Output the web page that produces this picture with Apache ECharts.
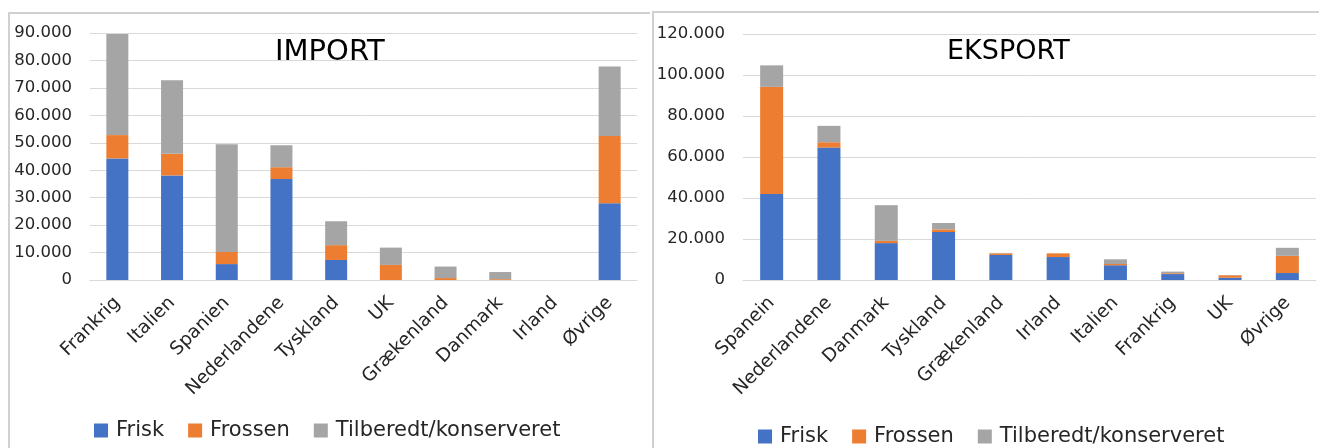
<!DOCTYPE html>
<html>
<head>
<meta charset="utf-8">
<script src="https://cdn.jsdelivr.net/npm/echarts@6/dist/echarts.min.js"></script>
<style>
  html, body { margin: 0; padding: 0; background: #ffffff; }
  #chart { width: 1319px; height: 448px; }
</style>
</head>
<body>
<div id="chart"></div>
<script>
// Import per land (tons)
const importCategories = ['Frankrig', 'Italien', 'Spanien', 'Nederlandene', 'Tyskland', 'UK', 'Grækenland', 'Danmark', 'Irland', 'Øvrige'];
const importFrisk     = [44300, 38100, 5800, 36800, 7300, 0, 0, 0, 0, 28000];
const importFrossen   = [8500, 7900, 4400, 4300, 5400, 5500, 700, 300, 0, 24500];
const importTilberedt = [36800, 26800, 39300, 8000, 8700, 6300, 4200, 2600, 0, 25300];

// Eksport per land (tons)
const exportCategories = ['Spanein', 'Nederlandene', 'Danmark', 'Tyskland', 'Grækenland', 'Irland', 'Italien', 'Frankrig', 'UK', 'Øvrige'];
const exportFrisk     = [42000, 64600, 18000, 23400, 12200, 11200, 7200, 2900, 1100, 3400];
const exportFrossen   = [52200, 2600, 1100, 1300, 800, 1800, 600, 400, 1200, 8400];
const exportTilberedt = [10500, 8000, 17400, 3100, 200, 0, 2300, 800, 100, 3900];

const seriesNames = ['Frisk', 'Frossen', 'Tilberedt/konserveret'];
const titles = ['IMPORT', 'EKSPORT'];

const colors = ['#4472C4', '#ED7D31', '#A5A5A5'];
const FONT = 'DejaVu Sans';
const TEXT = '#262626';
const GRID_LINE = '#d9d9d9';
const BORDER = '#d0d0d0';

function thousands(v) {
  return String(v).replace(/\B(?=(\d{3})+(?!\d))/g, '.');
}

function yAxis(gridIndex, max, interval) {
  return {
    type: 'value', gridIndex, min: 0, max, interval,
    axisLine: { show: false }, axisTick: { show: false },
    splitLine: { lineStyle: { color: GRID_LINE, width: 1 } },
    axisLabel: { fontFamily: FONT, fontSize: 16.5, color: TEXT, margin: 18, formatter: thousands }
  };
}

function xAxis(gridIndex, data) {
  return {
    type: 'category', gridIndex, data,
    axisLine: { lineStyle: { color: GRID_LINE, width: 1 } },
    axisTick: { show: false },
    axisLabel: { interval: 0, rotate: 45, fontFamily: FONT, fontSize: 18.5, color: TEXT, margin: 20 }
  };
}

function bars(idx, stack, width, values) {
  return values.map((vals, i) => ({
    name: seriesNames[i], type: 'bar', stack,
    xAxisIndex: idx, yAxisIndex: idx,
    barWidth: width, data: vals,
    itemStyle: { color: colors[i] },
    emphasis: { disabled: true }
  }));
}

function legend(left, top) {
  return {
    left, top, itemWidth: 14, itemHeight: 14, itemGap: 24,
    icon: 'rect', data: seriesNames,
    textStyle: { fontFamily: FONT, fontSize: 21, color: TEXT, padding: [0, 0, 0, 3] }
  };
}

const chart = echarts.init(document.getElementById('chart'));
chart.setOption({
  animation: false,
  color: colors,
  title: [
    { text: titles[0], left: 275, top: 38, padding: 0, textStyle: { fontFamily: FONT, fontSize: 29, fontWeight: 'normal', color: '#000' } },
    { text: titles[1], left: 947, top: 38, padding: 0, textStyle: { fontFamily: FONT, fontSize: 27, fontWeight: 'normal', color: '#000' } }
  ],
  legend: [legend(89, 415), legend(753, 421)],
  grid: [
    { left: 90, right: 682, top: 33, bottom: 168 },
    { left: 743, right: 3, top: 34, bottom: 168 }
  ],
  xAxis: [xAxis(0, importCategories), xAxis(1, exportCategories)],
  yAxis: [yAxis(0, 90000, 10000), yAxis(1, 120000, 20000)],
  series: [
    ...bars(0, 'import', 22, [importFrisk, importFrossen, importTilberedt]),
    ...bars(1, 'eksport', 23, [exportFrisk, exportFrossen, exportTilberedt])
  ],
  graphic: [
    // panel frames
    { type: 'polyline', shape: { points: [[9, 448], [9, 13], [650, 13]] }, style: { stroke: BORDER, lineWidth: 2, fill: null }, silent: true },
    { type: 'polyline', shape: { points: [[653, 448], [653, 12], [1319, 12]] }, style: { stroke: BORDER, lineWidth: 2, fill: null }, silent: true }
  ]
});
</script>
</body>
</html>
